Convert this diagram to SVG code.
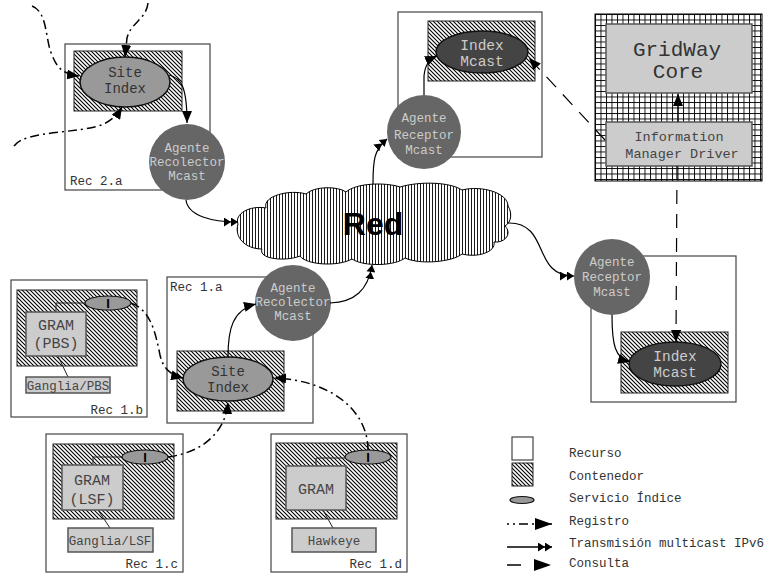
<svg xmlns="http://www.w3.org/2000/svg" width="771" height="576" viewBox="0 0 771 576">
<defs>
<pattern id="hatch" patternUnits="userSpaceOnUse" width="4" height="4">
<rect width="4" height="4" fill="#fff"/>
<path d="M-1,-1 L5,5 M-1,3 L1,5 M3,-1 L5,1" stroke="#000" stroke-width="1.1"/>
</pattern>
<pattern id="grid" patternUnits="userSpaceOnUse" width="5.5" height="5.5" x="595" y="14">
<rect width="5.5" height="5.5" fill="#fff"/>
<path d="M0,0.5 L5.5,0.5 M0.5,0 L0.5,5.5" stroke="#000" stroke-width="0.9"/>
</pattern>
<pattern id="vert" patternUnits="userSpaceOnUse" width="3" height="3">
<rect width="3" height="3" fill="#fff"/>
<path d="M0.5,0 L0.5,3" stroke="#000" stroke-width="0.9"/>
</pattern>
<marker id="a" markerUnits="userSpaceOnUse" markerWidth="12" markerHeight="10" refX="12" refY="5" orient="auto">
<path d="M0,0 L12,5 L0,10 z" fill="#000"/>
</marker>
<marker id="al" markerUnits="userSpaceOnUse" markerWidth="17" markerHeight="12" refX="17" refY="6" orient="auto">
<path d="M0,0 L17,6 L0,12 z" fill="#000"/>
</marker>
<marker id="d" markerUnits="userSpaceOnUse" markerWidth="14" markerHeight="9" refX="14" refY="4.5" orient="auto">
<path d="M0,0 L7,4.5 L0,9 z M7,0 L14,4.5 L7,9 z" fill="#000"/>
</marker>
</defs>
<style>
.rec{fill:#fff;stroke:#444;stroke-width:1.2}
.cont{fill:url(#hatch);stroke:#222;stroke-width:1}
.site{fill:#999;stroke:#111;stroke-width:1.5}
.agent{fill:#666;stroke:none}
.imc{fill:#444;stroke:#111;stroke-width:1.5}
.box{fill:#ccc;stroke:#555;stroke-width:1.5}
.small{fill:#999;stroke:#111;stroke-width:1.2}
.t{font-family:"Liberation Mono","DejaVu Sans Mono",monospace;text-anchor:middle}
.dk{fill:#333}
.lt{fill:#ccc}
.lbl{font-family:"Liberation Mono","DejaVu Sans Mono",monospace;font-size:12.5px;fill:#333}
.I{font-family:"Liberation Sans",Arial,sans-serif;font-weight:bold;font-size:13px;text-anchor:middle;fill:#000}
.reg{fill:none;stroke:#000;stroke-width:1.5;stroke-dasharray:9,4,2,4}
.tx{fill:none;stroke:#000;stroke-width:1.2}
.con{fill:none;stroke:#000;stroke-width:1.2;stroke-dasharray:14,10}
.thin{fill:none;stroke:#222;stroke-width:1}
</style>

<!-- Rec 2.a -->
<g id="rec2a">
<rect class="rec" x="65" y="44" width="145" height="146"/>
<rect class="cont" x="74" y="51" width="108" height="60"/>
<text class="lbl" x="70" y="185">Rec 2.a</text>
</g>
<g id="siteindex2a">
<ellipse class="site" cx="125" cy="82" rx="45" ry="25"/>
<text class="t dk" x="125" y="77" font-size="14">Site</text>
<text class="t dk" x="125" y="93" font-size="14">Index</text>
</g>
<g id="agrec2a">
<circle class="agent" cx="187" cy="162" r="38"/>
<text class="t lt" x="187" y="152" font-size="12.5">Agente</text>
<text class="t lt" x="187" y="166" font-size="12.5">Recolector</text>
<text class="t lt" x="187" y="180" font-size="12.5">Mcast</text>
</g>

<!-- Top Index Mcast resource -->
<g id="rectop">
<rect class="rec" x="398" y="12" width="144" height="145"/>
<rect class="cont" x="428" y="21" width="107" height="60"/>
</g>
<g id="indexmcast1">
<ellipse class="imc" cx="482" cy="52" rx="46" ry="21"/>
<text class="t lt" x="482" y="50" font-size="14.5">Index</text>
<text class="t lt" x="482" y="66" font-size="14.5">Mcast</text>
</g>
<g id="agrecep1">
<circle class="agent" cx="424" cy="132" r="37"/>
<text class="t lt" x="424" y="122" font-size="12.5">Agente</text>
<text class="t lt" x="424" y="139" font-size="12.5">Receptor</text>
<text class="t lt" x="424" y="154" font-size="12.5">Mcast</text>
</g>

<!-- GridWay -->
<g id="gridway">
<rect x="595" y="14" width="167" height="167" fill="url(#grid)" stroke="#000" stroke-width="1"/>
<rect class="box" x="606" y="24" width="146" height="69"/>
<text class="t" x="677" y="56" font-size="21" fill="#333">GridWay</text>
<text class="t" x="678" y="78" font-size="21" fill="#333">Core</text>
</g>
<g id="imd">
<rect class="box" x="606" y="122" width="146" height="44"/>
<text class="t" x="679" y="141" font-size="13.5" fill="#444">Information</text>
<text class="t" x="682" y="158" font-size="13.5" fill="#444">Manager Driver</text>
</g>

<!-- Cloud -->
<g id="red">
<path d="M238,224 C234,214 250,205 266,208 C262,196 290,189 306,194 C314,186 338,186 346,192 C356,183 385,182 400,187 C420,181 450,182 462,190 C482,185 508,193 508,206 C512,212 512,222 505,226 C512,233 506,243 494,242 C496,252 478,258 462,254 C452,262 420,265 405,258 C395,266 364,267 352,259 C338,267 306,265 300,256 C285,262 258,259 262,249 C245,249 234,237 238,224 Z" fill="url(#vert)" stroke="#000" stroke-width="1"/>
<text x="373" y="235" font-family="'Liberation Sans',Arial,sans-serif" font-weight="bold" font-size="32" text-anchor="middle" fill="#000">Red</text>
</g>

<!-- Right Index Mcast resource -->
<g id="recright">
<rect class="rec" x="591" y="256" width="145" height="146"/>
<rect class="cont" x="621" y="332" width="107" height="61"/>
</g>
<g id="indexmcast2">
<ellipse class="imc" cx="675" cy="364" rx="46" ry="22"/>
<text class="t lt" x="675" y="361" font-size="14.5">Index</text>
<text class="t lt" x="675" y="377" font-size="14.5">Mcast</text>
</g>
<g id="agrecep2">
<circle class="agent" cx="612" cy="277" r="38"/>
<text class="t lt" x="612" y="266" font-size="12.5">Agente</text>
<text class="t lt" x="612" y="281" font-size="12.5">Receptor</text>
<text class="t lt" x="612" y="296" font-size="12.5">Mcast</text>
</g>

<!-- Rec 1.b -->
<g id="rec1b">
<rect class="rec" x="11" y="280" width="136" height="137"/>
<rect class="cont" x="17" y="290" width="120" height="76"/>
<polyline class="thin" points="86,303 56,303 56,312"/>
<line class="thin" x1="58" y1="356" x2="68" y2="377"/>
<rect class="box" x="26" y="312" width="60" height="44"/>
<text class="t" x="56" y="330" font-size="15" fill="#444">GRAM</text>
<text class="t" x="56" y="348" font-size="15" fill="#444">(PBS)</text>
<rect class="box" x="26" y="377" width="84" height="16"/>
<text class="t" x="68" y="389.5" font-size="12.5" fill="#444">Ganglia/PBS</text>
<ellipse class="small" cx="108" cy="303" rx="23" ry="7"/>
<text class="I" x="108" y="308">I</text>
<text class="lbl" x="143" y="414" text-anchor="end">Rec 1.b</text>
</g>

<!-- Rec 1.a -->
<g id="rec1a">
<rect class="rec" x="167" y="277" width="146" height="146"/>
<rect class="cont" x="177" y="351" width="107" height="60"/>
<text class="lbl" x="170" y="291">Rec 1.a</text>
</g>
<g id="siteindex1a">
<ellipse class="site" cx="228" cy="379" rx="45" ry="22"/>
<text class="t dk" x="228" y="376" font-size="14">Site</text>
<text class="t dk" x="228" y="392" font-size="14">Index</text>
</g>
<g id="agrec1a">
<circle class="agent" cx="293" cy="303" r="38"/>
<text class="t lt" x="293" y="292" font-size="12.5">Agente</text>
<text class="t lt" x="293" y="306" font-size="12.5">Recolector</text>
<text class="t lt" x="293" y="320" font-size="12.5">Mcast</text>
</g>

<!-- Rec 1.c -->
<g id="rec1c">
<rect class="rec" x="46" y="434" width="137" height="138"/>
<rect class="cont" x="53" y="444" width="121" height="75"/>
<polyline class="thin" points="122,457 93,457 93,465"/>
<line class="thin" x1="98" y1="510" x2="110" y2="528"/>
<rect class="box" x="62" y="465" width="61" height="45"/>
<text class="t" x="92" y="485" font-size="15" fill="#444">GRAM</text>
<text class="t" x="92" y="504" font-size="15" fill="#444">(LSF)</text>
<rect class="box" x="68" y="528" width="85" height="24"/>
<text class="t" x="110" y="544.5" font-size="12.5" fill="#444">Ganglia/LSF</text>
<ellipse class="small" cx="145" cy="457" rx="23" ry="7"/>
<text class="I" x="145" y="462">I</text>
<text class="lbl" x="178" y="568" text-anchor="end">Rec 1.c</text>
</g>

<!-- Rec 1.d -->
<g id="rec1d">
<rect class="rec" x="271" y="434" width="136" height="138"/>
<rect class="cont" x="276" y="443" width="121" height="76"/>
<polyline class="thin" points="345,458 316,458 316,466"/>
<line class="thin" x1="323" y1="510" x2="333" y2="528"/>
<rect class="box" x="286" y="466" width="60" height="44"/>
<text class="t" x="316" y="494" font-size="15" fill="#444">GRAM</text>
<rect class="box" x="292" y="528" width="84" height="24"/>
<text class="t" x="334" y="545" font-size="12.5" fill="#444">Hawkeye</text>
<ellipse class="small" cx="368" cy="457" rx="23" ry="7"/>
<text class="I" x="368" y="462">I</text>
<text class="lbl" x="402" y="568" text-anchor="end">Rec 1.d</text>
</g>

<!-- Connectors -->
<g id="connectors">
<path class="reg" d="M32,6 C48,12 45,40 52,55 C57,68 63,74 79,76" marker-end="url(#a)"/>
<path class="reg" d="M148,3 C146,20 131,22 127,38 L125,57" marker-end="url(#a)"/>
<path class="reg" d="M14,146 C25,130 80,134 104,124 C115,118 119,112 122,107" marker-end="url(#a)"/>
<path class="tx" d="M169,75 C181,78 187,86 187,123" marker-end="url(#a)"/>
<path class="tx" d="M186,200 C188,216 212,222 238,222" marker-end="url(#d)"/>
<path class="tx" d="M373,184 C373,160 374,150 387,139" marker-end="url(#d)"/>
<path class="tx" d="M424,95 L424,76 C425,66 428,60 437,56" marker-end="url(#a)"/>
<path class="con" d="M605,140 L529,58" marker-end="url(#a)"/>
<path class="tx" d="M678,122 L678,94" marker-end="url(#a)"/>
<path class="con" d="M677,166 L676,342" marker-end="url(#a)"/>
<path class="tx" d="M508,223 C540,222 538,255 552,268 C558,274 565,276 574,276" marker-end="url(#d)"/>
<path class="tx" d="M612,315 C612,345 615,358 630,362" marker-end="url(#a)"/>
<path class="reg" d="M131,303 C150,310 155,330 160,355 C163,368 170,375 183,378" marker-end="url(#a)"/>
<path class="reg" d="M368,450 C368,410 330,380 274,378" marker-end="url(#a)"/>
<path class="reg" d="M168,457 C205,452 226,430 228,402" marker-end="url(#a)"/>
<path class="tx" d="M228,357 C228,330 232,310 256,304" marker-end="url(#a)"/>
<path class="tx" d="M330,303 C355,302 368,290 372,265" marker-end="url(#d)"/>
</g>

<!-- Legend -->
<g id="legend">
<rect x="512" y="437" width="21" height="23" fill="#fff" stroke="#444" stroke-width="1.2"/>
<rect x="512" y="463" width="21" height="23" fill="url(#hatch)" stroke="#222" stroke-width="1"/>
<ellipse cx="522" cy="500" rx="12" ry="3.5" fill="#999" stroke="#111" stroke-width="1.2"/>
<path d="M507,524 L552,524" fill="none" stroke="#000" stroke-width="1.5" stroke-dasharray="2,4,2,4,9,4" marker-end="url(#al)"/>
<path d="M507,547 L552,547" fill="none" stroke="#000" stroke-width="1.5" marker-end="url(#d)"/>
<path d="M507,565 L551,565" fill="none" stroke="#000" stroke-width="1.5" stroke-dasharray="14,40" marker-end="url(#al)"/>
<text class="lbl" x="569" y="457" fill="#444">Recurso</text>
<text class="lbl" x="569" y="480" fill="#444">Contenedor</text>
<text class="lbl" x="569" y="502">Servicio Índice</text>
<text class="lbl" x="569" y="525">Registro</text>
<text class="lbl" x="569" y="547">Transmisión multicast IPv6</text>
<text class="lbl" x="569" y="567">Consulta</text>
</g>
</svg>
